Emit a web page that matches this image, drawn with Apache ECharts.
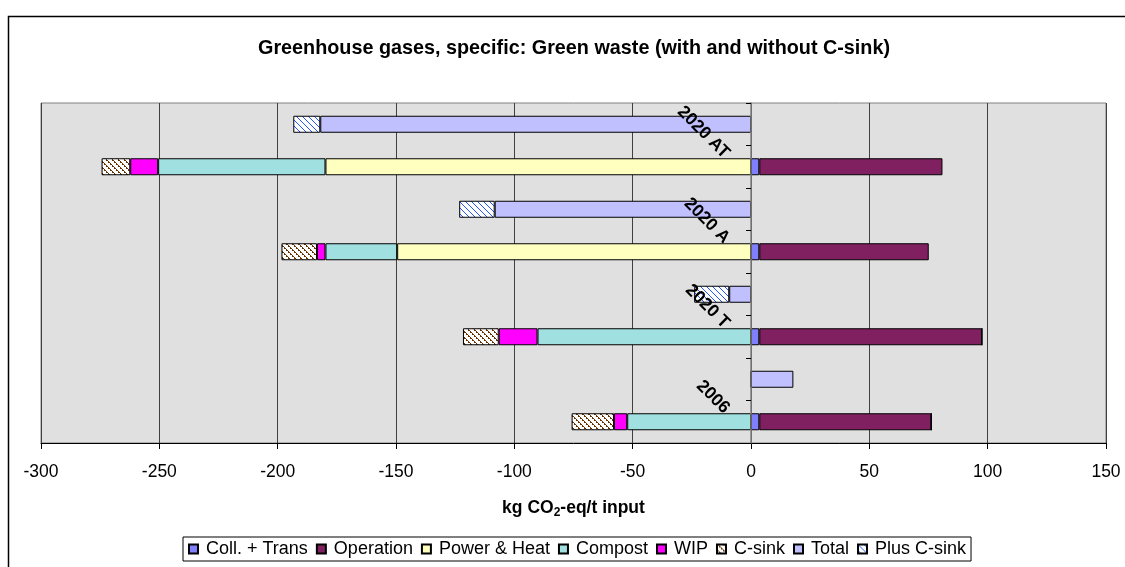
<!DOCTYPE html>
<html>
<head>
<meta charset="utf-8">
<script src="https://cdn.jsdelivr.net/npm/echarts@6/dist/echarts.min.js"></script>
<style>
html,body{margin:0;padding:0;background:#fff;}
#chart{width:1125px;height:567px;}
</style>
</head>
<body>
<div id="chart"></div>
<script>
// ---- data (scenario order bottom -> top) ----
const scenarios = ['2006', '2020 T', '2020 A', '2020 AT'];
const tickLabels = ['', '2006', '', '2020 T', '', '2020 A', '', '2020 AT', ''];
const xTicks = [-300, -250, -200, -150, -100, -50, 0, 50, 100, 150];
const collTrans = [3.5, 3.5, 3.5, 3.5];
const operation = [72.7, 94.1, 71.6, 77.4];
const powerHeat = [0, 0, -149.5, -179.8];
const compost = [-52.3, -90.2, -30.3, -70.7];
const wip = [-5.6, -16.4, -3.6, -11.8];
const cSink = [-17.9, -15.1, -15.0, -12.1];
const total = [17.9, -9.2, -108.3, -182.0];
const plusCSink = [-0.4, -14.8, -15.0, -11.4];

const FONT = '"Liberation Sans", Arial, sans-serif';
const W = 1125, GRID_L = 41, GRID_R = 19;
const xMin = xTicks[0], xMax = xTicks[xTicks.length - 1];
// place the category label axis on the x = 0 line
const zeroOffset = -((0 - xMin) / (xMax - xMin)) * (W - GRID_L - GRID_R);

// two rows per scenario: components row (lower), total row (upper)
const rows = [];
scenarios.forEach(s => { rows.push(s + ' components'); rows.push(s + ' total'); });
function compRows(arr) { const out = []; arr.forEach(v => { out.push(v); out.push('-'); }); return out; }
function totRows(arr) { const out = []; arr.forEach(v => { out.push('-'); out.push(v); }); return out; }

function hatch(color, n, test) {
  const c = document.createElement('canvas');
  c.width = n; c.height = n;
  const g = c.getContext('2d');
  g.fillStyle = '#ffffff'; g.fillRect(0, 0, n, n);
  g.fillStyle = color;
  for (let y = 0; y < n; y++) for (let x = 0; x < n; x++) if (test(x, y)) g.fillRect(x, y, 1, 1);
  return { image: c, repeat: 'repeat' };
}
const brownHatch = hatch('#663300', 6, (x, y) => ((x - y + 12) % 6) < 2 && (x % 2 === 0 || y % 2 === 0));
const blueHatch = hatch('#2255FF', 6, (x, y) => ((x - y + 12) % 6) < 2 && ((x + y) % 2 === 0));

const border = { borderColor: '#000', borderWidth: 1 };
function compSeries(name, arr, color) {
  return { name, type: 'bar', yAxisIndex: 0, stack: 'comp', barWidth: 17, barGap: '-100%',
    data: compRows(arr), itemStyle: Object.assign({ color }, border), emphasis: { disabled: true } };
}
function totSeries(name, arr, color) {
  return { name, type: 'bar', yAxisIndex: 0, stack: 'tot', barWidth: 17, barGap: '-100%',
    data: totRows(arr), itemStyle: Object.assign({ color }, border), emphasis: { disabled: true } };
}

const chart = echarts.init(document.getElementById('chart'), null, { renderer: 'canvas' });
chart.setOption({
  animation: false,
  backgroundColor: '#ffffff',
  textStyle: { fontFamily: FONT },
  title: {
    text: 'Greenhouse gases, specific: Green waste (with and without C-sink)',
    left: 258, top: 39, padding: 0,
    textStyle: { fontFamily: FONT, fontSize: 19.8, fontWeight: 'bold', color: '#000' }
  },
  graphic: [{
    type: 'polyline', z: -1, silent: true,
    shape: { points: [[8.5, 1000], [8.5, 16.5], [1600, 16.5]] },
    style: { fill: null, stroke: '#000', lineWidth: 1.5 }
  }],
  legend: {
    left: 183, top: 537,
    itemWidth: 9, itemHeight: 9, itemGap: 8,
    padding: [3, 5, 3, 5],
    borderColor: '#000', borderWidth: 1, backgroundColor: '#fff',
    textStyle: { fontFamily: FONT, fontSize: 18, color: '#000', padding: [0, 0, 0, 3] },
    icon: 'rect',
    data: ['Coll. + Trans', 'Operation', 'Power & Heat', 'Compost', 'WIP', 'C-sink', 'Total', 'Plus C-sink']
  },
  grid: {
    left: GRID_L, right: GRID_R, top: 103, bottom: 124,
    show: true, backgroundColor: '#E0E0E0', borderColor: '#808080', borderWidth: 1,
    containLabel: false, outerBoundsMode: 'none'
  },
  xAxis: {
    type: 'value', min: xMin, max: xMax, interval: 50,
    position: 'bottom',
    axisLine: { show: true, onZero: false, lineStyle: { color: '#000', width: 1 } },
    axisTick: { show: true, length: 6, lineStyle: { color: '#000' } },
    axisLabel: { fontFamily: FONT, fontSize: 17.5, color: '#000', margin: 20 },
    splitLine: { show: true, lineStyle: { color: '#404040', width: 1 } },
    name: '{a|kg CO}{s|2}{a|-eq/t input}',
    nameLocation: 'middle', nameGap: 54,
    nameTextStyle: {
      rich: {
        a: { fontFamily: FONT, fontSize: 17.5, fontWeight: 'bold', color: '#000', lineHeight: 22 },
        s: { fontFamily: FONT, fontSize: 12, fontWeight: 'bold', color: '#000', lineHeight: 12, verticalAlign: 'bottom' }
      }
    }
  },
  yAxis: [{
    type: 'category', data: rows, show: false, position: 'left'
  }, {
    type: 'category', data: tickLabels, boundaryGap: false, position: 'left', offset: zeroOffset, z: 10,
    axisLine: { show: true, onZero: false, lineStyle: { color: '#808080', width: 1.5 } },
    axisTick: { show: true, interval: 0, length: 5, lineStyle: { color: '#000' } },
    axisLabel: { show: true, interval: 0, rotate: -45, margin: 14, verticalAlign: 'top', lineHeight: 29,
      fontFamily: FONT, fontSize: 17.5, fontWeight: 'bold', color: '#000' },
    splitLine: { show: false }
  }],
  series: [
    compSeries('Coll. + Trans', collTrans, '#8080FF'),
    compSeries('Operation', operation, '#802060'),
    compSeries('Power & Heat', powerHeat, '#FFFFC0'),
    compSeries('Compost', compost, '#A0E0E0'),
    compSeries('WIP', wip, '#FF00FF'),
    compSeries('C-sink', cSink, brownHatch),
    totSeries('Total', total, '#C0C0FF'),
    totSeries('Plus C-sink', plusCSink, blueHatch)
  ]
});
</script>
</body>
</html>
